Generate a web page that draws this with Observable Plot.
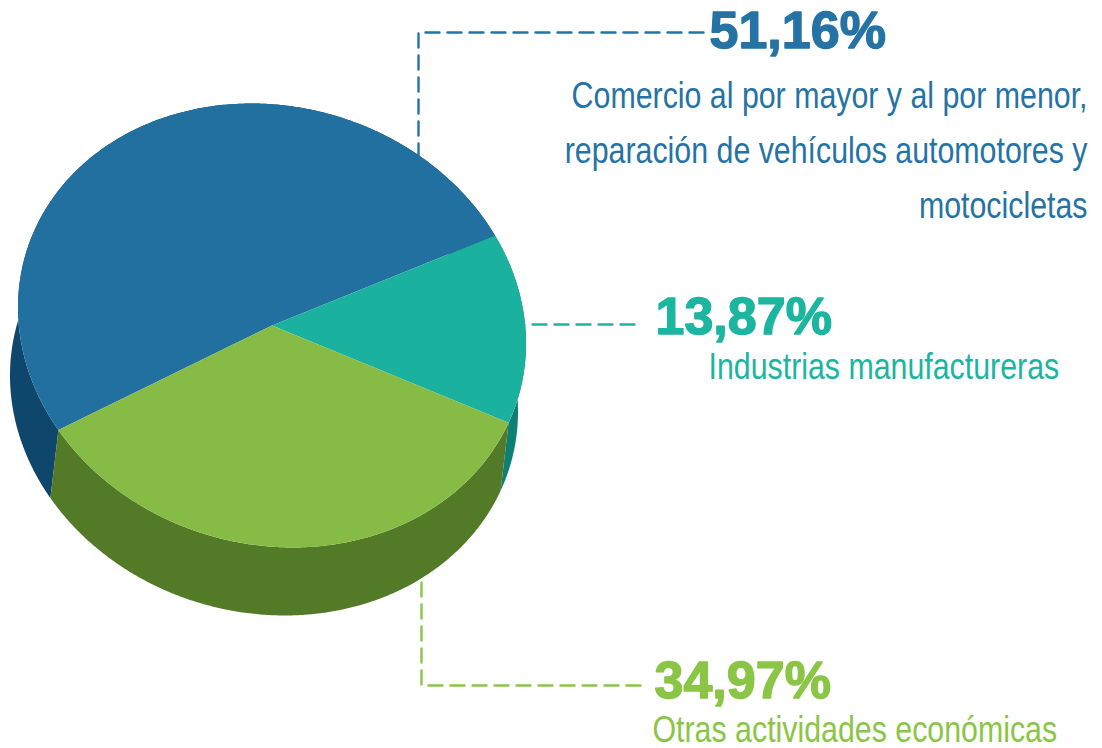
<!DOCTYPE html>
<html>
<head>
<meta charset="utf-8">
<script src="https://cdn.jsdelivr.net/npm/d3@7"></script>
<script src="https://cdn.jsdelivr.net/npm/@observablehq/plot@0.6"></script>
<style>
  html, body { margin: 0; padding: 0; background: #ffffff; }
  #chart svg { display: block; }
</style>
</head>
<body>
<div id="chart"></div>
<script>
// ---- data ----
const categories = [
  "Comercio al por mayor y al por menor,\nreparación de vehículos automotores y\nmotocicletas",
  "Industrias manufactureras",
  "Otras actividades económicas"
];
const values = [51.16, 13.87, 34.97];
const topColors = ["#21709f", "#1bb19f", "#86bb45"];
const sideColors = ["#0e476b", "#0e7f75", "#527a27"];
const textColors = ["#2573a5", "#1bb5a0", "#8bc545"];

// ---- layout ----
const W = 1102, H = 748;
const geo = {cx: 271.5, cy: 325, a: 256.5, b: 219.1, tilt: 15.5, depthX: -8, depthY: 68, start: 133.9};
const labelLayout = [
  {px: 709, py: 47, tx: 1087, ty: 217, anchor: "end", leader: [[703, 32], [418, 32], [418, 200]]},
  {px: 655, py: 333, tx: 708, ty: 378, anchor: "start", leader: [[634, 324], [480, 324]]},
  {px: 654, py: 697, tx: 652, ty: 741, anchor: "start", leader: [[640, 685], [421, 685], [421, 540]]}
];
const narrow = 0.82; // condensed face emulation

// ---- geometry derived from values ----
const phi = geo.tilt * Math.PI / 180;
function P(t) {
  const c = Math.cos(t), s = Math.sin(t);
  return [
    geo.cx + geo.a * c * Math.cos(phi) - geo.b * s * Math.sin(phi),
    geo.cy + geo.a * c * Math.sin(phi) + geo.b * s * Math.cos(phi)
  ];
}
const s0 = geo.start * Math.PI / 180;
const arcs = d3.pie().sort(null).value(d => d).startAngle(s0).endAngle(s0 + 2 * Math.PI)(values);

function arcPoints(a0, a1) {
  const n = Math.max(2, Math.ceil((a1 - a0) / (Math.PI / 360)));
  return d3.range(n + 1).map(i => P(a0 + (a1 - a0) * i / n));
}

const sidePolys = arcs.map((arc, i) => {
  const top = arcPoints(arc.startAngle, arc.endAngle);
  const bottom = top.slice().reverse().map(([x, y]) => [x + geo.depthX, y + geo.depthY]);
  return top.concat(bottom, [top[0]]).map(([x, y]) => ({x, y, i}));
});
const topPolys = arcs.map((arc, i) => {
  const pts = [[geo.cx, geo.cy]].concat(arcPoints(arc.startAngle, arc.endAngle), [[geo.cx, geo.cy]]);
  return pts.map(([x, y]) => ({x, y, i}));
});

const fmt = v => v.toFixed(2).replace(".", ",") + "%";
const labels = values.map((v, i) => ({
  pct: fmt(v), name: categories[i], color: textColors[i], ...labelLayout[i]
}));

const marks = [];
// leader lines (drawn first; the pie hides their inner ends)
labels.forEach((d, i) => {
  marks.push(Plot.line(d.leader, {
    x: p => p[0], y: p => p[1],
    stroke: textColors[i], strokeWidth: 2.4, strokeDasharray: "14,8", curve: "linear"
  }));
});
// sides
sidePolys.forEach((poly, i) => {
  marks.push(Plot.line(poly, {x: "x", y: "y", fill: sideColors[i], stroke: "none", curve: "linear"}));
});
// tops
topPolys.forEach((poly, i) => {
  marks.push(Plot.line(poly, {x: "x", y: "y", fill: topColors[i], stroke: "none", curve: "linear"}));
});
// percentages
marks.push(Plot.text(labels, {
  x: "px", y: "py", text: "pct", fill: "color", stroke: "color", strokeWidth: 1.4,
  textAnchor: "start", lineAnchor: "bottom",
  fontSize: 52, fontWeight: "bold", fontFamily: "'Liberation Sans', Arial, sans-serif"
}));
// descriptions
labels.forEach(d => {
  marks.push(Plot.text([d], {
    x: "tx", y: "ty", text: "name", fill: "color", textAnchor: d.anchor, lineAnchor: "bottom",
    lineHeight: 55 / 37, fontSize: 37,
    fontFamily: "'Liberation Sans Narrow', 'Arial Narrow', 'Liberation Sans', sans-serif"
  }));
});

const chart = Plot.plot({
  width: W, height: H,
  margin: 0, marginTop: 0, marginRight: 0, marginBottom: 0, marginLeft: 0,
  x: {domain: [0, W], range: [0, W], axis: null},
  y: {domain: [0, H], range: [0, H], axis: null},
  color: {type: "identity"},
  style: {background: "#ffffff", overflow: "visible"},
  marks
});
// emulate the condensed face: squeeze description texts horizontally about their anchor
chart.querySelectorAll('g[font-size="37"] text').forEach(t => {
  const tr = t.getAttribute("transform") || "";
  t.setAttribute("transform", tr + ` scale(${narrow},1)`);
});
document.getElementById("chart").appendChild(chart);
</script>
</body>
</html>
